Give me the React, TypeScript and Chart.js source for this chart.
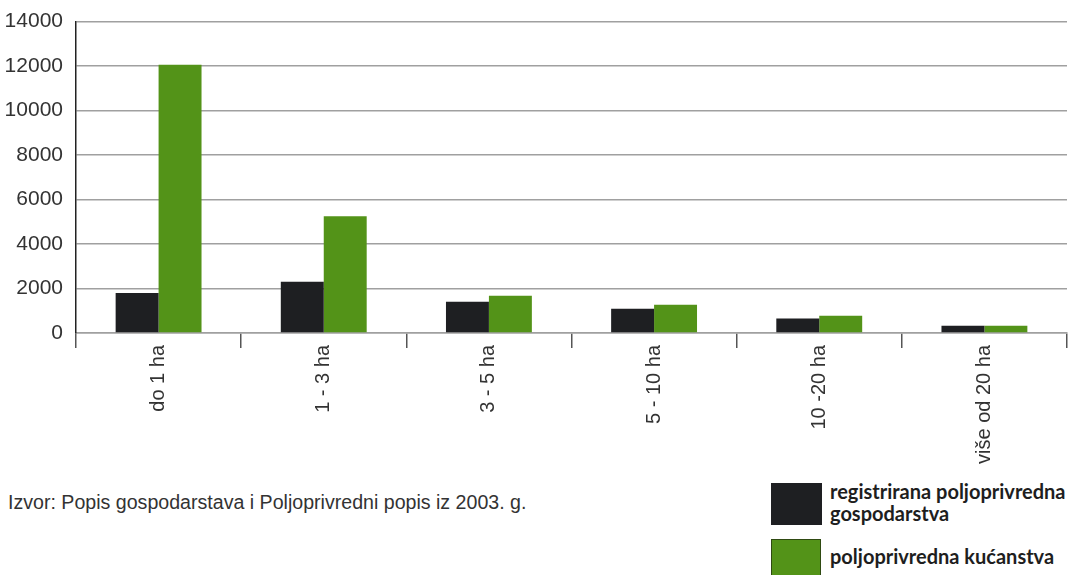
import React, { useEffect, useRef } from "react";
import { Chart, registerables } from "chart.js";

Chart.register(...registerables);

const categories = ["do 1 ha", "1 - 3 ha", "3 - 5 ha", "5 - 10 ha", "10 -20 ha", "više od 20 ha"];
const registrirana = [1800, 2300, 1400, 1090, 650, 330];
const kucanstva = [12060, 5250, 1670, 1270, 780, 330];
const yTicks = [0, 2000, 4000, 6000, 8000, 10000, 12000, 14000];
const seriesNames = ["registrirana poljoprivredna gospodarstva", "poljoprivredna kućanstva"];
const sourceText = "Izvor: Popis gospodarstava i Poljoprivredni popis iz 2003. g.";

const DARK = "#1e1f22";
const GREEN = "#539318";
const SANS = "'Liberation Sans', Arial, sans-serif";

export default function App() {
  const ref = useRef<HTMLCanvasElement | null>(null);

  useEffect(() => {
    if (!ref.current) return;
    const chart = new Chart(ref.current, {
      type: "bar",
      data: {
        labels: categories,
        datasets: [
          { label: seriesNames[0], data: registrirana, backgroundColor: DARK, borderWidth: 0 },
          { label: seriesNames[1], data: kucanstva, backgroundColor: GREEN, borderWidth: 0 },
        ],
      },
      options: {
        animation: false,
        responsive: false,
        maintainAspectRatio: false,
        layout: { padding: { top: 17, right: 6, left: 0, bottom: 0 } },
        plugins: { legend: { display: false }, tooltip: { enabled: false } },
        datasets: { bar: { categoryPercentage: 0.52, barPercentage: 1 } },
        scales: {
          x: {
            offset: true,
            grid: { drawOnChartArea: false, drawTicks: true, tickLength: 15, color: "#555", lineWidth: 1.5, offset: true },
            border: { color: "#a0a0a0", width: 1.5 },
            ticks: {
              autoSkip: false,
              maxRotation: 90,
              minRotation: 90,
              padding: -3,
              color: "#333",
              font: { family: SANS, size: 20 },
            },
            afterFit: (s: any) => { s.height = 133; },
          },
          y: {
            min: 0,
            max: 14000,
            afterBuildTicks: (s: any) => { s.ticks = yTicks.map((v) => ({ value: v })); },
            grid: { drawTicks: false, color: "#a0a0a0", lineWidth: 1.5 },
            border: { color: "#222", width: 1.5 },
            ticks: {
              padding: 13,
              color: "#333",
              font: { family: SANS, size: 21 },
              callback: (v: any) => String(v),
            },
            afterFit: (s: any) => { s.width = 76; },
          },
        },
      },
    });
    return () => chart.destroy();
  }, []);

  return (
    <div style={{ position: "fixed", left: 0, top: 0, width: 1073, height: 575, background: "#fff", overflow: "hidden" }}>
      <canvas ref={ref} width={1073} height={470} style={{ position: "absolute", left: 0, top: -4, width: 1073, height: 470 }} />
      <div style={{ position: "absolute", left: 8, top: 492, fontFamily: SANS, fontSize: 19.6, lineHeight: "20px", color: "#333", whiteSpace: "nowrap" }}>
        {sourceText}
      </div>
      <div style={{ position: "absolute", left: 771, top: 483, width: 51, height: 42, background: DARK }} />
      <div style={{ position: "absolute", left: 771, top: 539, width: 50, height: 40, background: GREEN, boxSizing: "border-box", border: "1px solid #2f4a12" }} />
      <div style={{ position: "absolute", left: 830, top: 480, fontFamily: "Lato, sans-serif", fontWeight: 700, fontSize: 20, lineHeight: "22px", color: "#1e1e1e", width: 250 }}>
        {seriesNames[0]}
      </div>
      <div style={{ position: "absolute", left: 830, top: 545, fontFamily: "Lato, sans-serif", fontWeight: 700, fontSize: 20, lineHeight: "22px", color: "#1e1e1e", whiteSpace: "nowrap" }}>
        {seriesNames[1]}
      </div>
    </div>
  );
}
